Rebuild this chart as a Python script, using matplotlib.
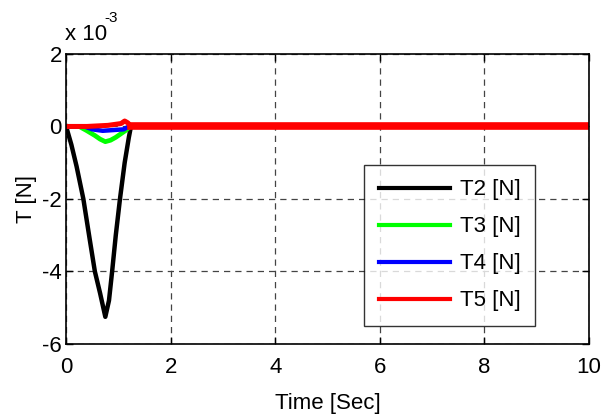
import matplotlib
matplotlib.use("Agg")
import matplotlib.pyplot as plt

plt.rcParams['font.family'] = ['Liberation Sans Narrow', 'Liberation Sans', 'DejaVu Sans']
plt.rcParams['axes.unicode_minus'] = False

# tensions in units of 1e-3 N
t2_time = [0.0, 0.1, 0.2, 0.33, 0.45, 0.55, 0.65, 0.75, 0.82, 0.88, 0.95, 1.03, 1.12, 1.2, 1.24, 10.0]
t2_vals = [0.0, -0.5, -1.1, -2.0, -3.1, -4.0, -4.6, -5.25, -4.8, -4.0, -3.0, -2.0, -1.0, -0.3, 0.0, 0.0]

t3_time = [0.0, 0.25, 0.4, 0.55, 0.65, 0.75, 0.85, 0.95, 1.05, 1.15, 1.22, 10.0]
t3_vals = [0.0, 0.0, -0.12, -0.25, -0.35, -0.42, -0.38, -0.3, -0.2, -0.1, 0.0, 0.0]

t4_time = [0.0, 0.35, 0.5, 0.7, 0.9, 1.1, 1.2, 10.0]
t4_vals = [0.0, 0.0, -0.08, -0.12, -0.1, -0.08, 0.0, 0.0]

t5_time = [0.0, 0.4, 0.8, 1.05, 1.12, 1.18, 1.24, 10.0]
t5_vals = [0.0, 0.0, 0.03, 0.08, 0.15, 0.1, 0.0, 0.0]

xticks = [0, 2, 4, 6, 8, 10]
yticks = [-6, -4, -2, 0, 2]

fig = plt.figure(figsize=(6.01, 4.18), dpi=100)
ax = fig.add_axes([0.110, 0.177, 0.870, 0.694])

ax.plot(t2_time, t2_vals, color='black', lw=3.2, label='T2 [N]')
ax.plot(t3_time, t3_vals, color='#00ff00', lw=3.4, label='T3 [N]')
ax.plot(t4_time, t4_vals, color='blue', lw=3.2, label='T4 [N]')
ax.plot(t5_time, t5_vals, color='red', lw=3.6, label='T5 [N]')
# after ~1.2 s the red trace is drawn much heavier
ax.plot(t5_time[6:], t5_vals[6:], color='red', lw=5.5)

ax.set_xlim(0, 10)
ax.set_ylim(-6, 2)
ax.set_xticks(xticks)
ax.set_yticks(yticks)
ax.tick_params(direction='in', length=5, width=1, labelsize=16, top=True, right=True)
ax.tick_params(axis='x', pad=9)
ax.tick_params(axis='y', pad=3)
for s in ax.spines.values():
    s.set_linewidth(1.2)
ax.grid(True, color='#444444', linestyle=(0, (5, 4)), linewidth=0.9)

ax.set_xlabel('Time [Sec]', fontsize=16, labelpad=11)
ax.set_ylabel('T [N]', fontsize=16, labelpad=4)

fig.text(0.108, 0.905, 'x 10', fontsize=16, ha='left', va='baseline')
fig.text(0.174, 0.948, '-3', fontsize=11, ha='left', va='baseline')

leg = ax.legend(loc='upper left', bbox_to_anchor=(0.57, 0.617), borderaxespad=0,
                fontsize=16, handlelength=3.2, labelspacing=0.72, fancybox=False,
                frameon=True, borderpad=0.65, handletextpad=0.45)
leg.get_frame().set_edgecolor('black')
leg.get_frame().set_linewidth(1.0)
for h in leg.get_lines():
    h.set_linewidth(3)

fig.savefig('out.png', dpi=100)
